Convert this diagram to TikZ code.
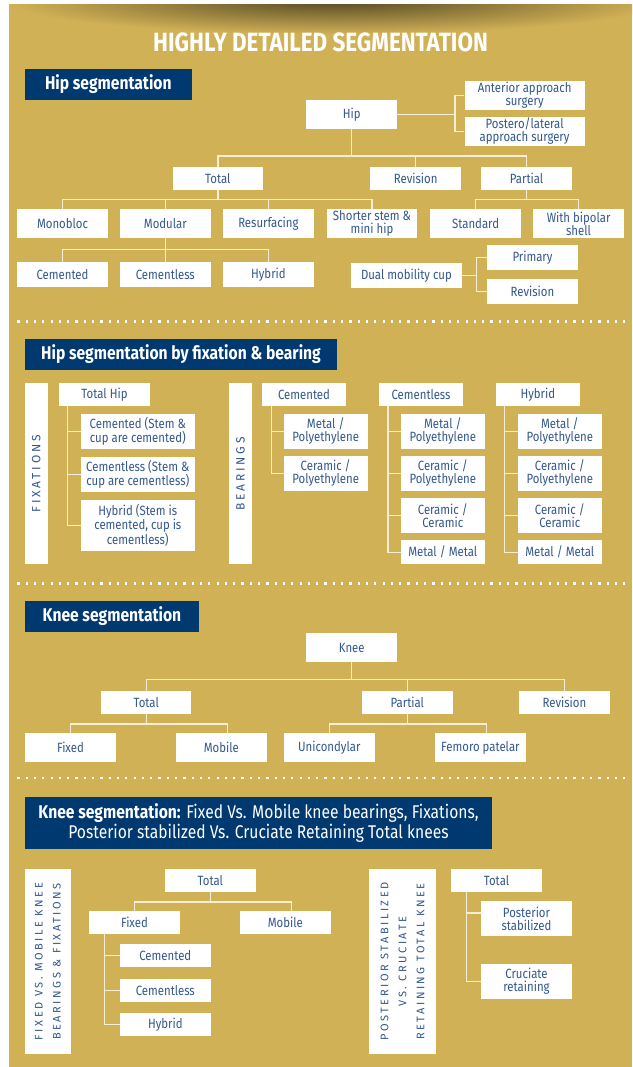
\documentclass[tikz,border=0pt]{standalone}
\usepackage{fontspec}
\setmainfont{Fira Sans}[FakeStretch=0.85]
\newfontfamily\barfont{Fira Sans}[LetterSpace=23]
\usetikzlibrary{positioning}

\definecolor{gold}{RGB}{209,177,86}
\definecolor{navy}{RGB}{0,57,112}
\definecolor{txtblue}{RGB}{52,88,140}
\definecolor{linecol}{RGB}{244,238,214}

\tikzset{
	box/.style={fill=white,text=txtblue,inner sep=0pt,align=center,minimum width=90.5pt,minimum height=23pt,font=\fontsize{13.4}{13}\selectfont},
	head/.style={fill=navy,text=white,inner sep=0pt,align=center,font=\fontsize{18.4}{21}\selectfont\bfseries},
	sidebar/.style={fill=white,text=txtblue,inner sep=0pt,align=center,rotate=90},
	link/.style={draw=linecol,line width=1.4pt},
	dots/.style={white,line width=2.2pt,dash pattern=on 2.2pt off 6.1pt}
}

\begin{document}
\begin{tikzpicture}[x=1pt,y=-1pt]
			\useasboundingbox (0,0) rectangle (632,1067);
			\fill[white] (0,0) rectangle (632,1067);
			\fill[gold] (9,5) rectangle (632,1067);
			\begin{scope}
				\clip (9,5) rectangle (632,1067);
				\shade[inner color=gold!40!black,outer color=gold] (335,0) ellipse (330 and 34);
			\end{scope}
			\node[text=white,font=\fontsize{26.4}{28}\selectfont\bfseries] (title) at (320.5,42) {HIGHLY DETAILED SEGMENTATION};

			% hip segmentation
			\node[head,minimum width=166.5pt,minimum height=31pt] (hiphead) at (108.3,84.5) {Hip segmentation};
			\node[box,minimum height=28.7pt] (hip) at (351.7,114.3) {Hip};
			\node[box,minimum width=120.2pt,minimum height=28.7pt] (ant) at (524.6,95.3) {Anterior approach\\surgery};
			\node[box,minimum width=120.2pt,minimum height=28.7pt] (post) at (524.6,131.3) {Postero/lateral\\approach surgery};
			\node[box] (htot) at (217.8,178.5) {Total};
			\node[box] (hrev) at (415.7,178.5) {Revision};
			\node[box] (hpart) at (526.6,178.5) {Partial};
			\node[box,minimum height=28.4pt] (mono) at (62.5,223.5) {Monobloc};
			\node[box,minimum height=28.4pt] (modu) at (165.3,223.5) {Modular};
			\node[box,minimum height=28.4pt] (resurf) at (268.4,223.5) {Resurfacing};
			\node[box,minimum height=28.4pt] (short) at (372,223.5) {Shorter stem \&\\mini hip};
			\node[box,minimum height=28.4pt] (std) at (475.6,223.5) {Standard};
			\node[box,minimum height=28.4pt] (bip) at (578.6,223.5) {With bipolar\\shell};
			\node[box,minimum height=24.7pt] (mcem) at (62.5,274.3) {Cemented};
			\node[box,minimum height=24.7pt] (mcless) at (165.3,274.3) {Cementless};
			\node[box,minimum height=24.7pt] (mhyb) at (268.4,274.3) {Hybrid};
			\node[box,minimum width=110.7pt,minimum height=24.4pt] (dual) at (406.4,275.5) {Dual mobility cup};
			\node[box,minimum width=91pt,minimum height=25pt] (prim) at (532.5,257.5) {Primary};
			\node[box,minimum width=91pt,minimum height=24.7pt] (drev) at (532.5,291.4) {Revision};

			\draw[link] (hip.east) -- ++(58,0) coordinate (hipr);
			\draw[link] (hipr) |- (ant.west);
			\draw[link] (hipr) |- (post.west);
			\draw[link] (hip.south) -- ++(0,27.3) -| (htot.north);
			\draw[link] (hip.south) -- ++(0,27.3) -| (hrev.north);
			\draw[link] (hip.south) -- ++(0,27.3) -| (hpart.north);
			\draw[link] (htot.south) -- ++(0,9.5) -| (mono.north);
			\draw[link] (htot.south) -- ++(0,9.5) -| (modu.north);
			\draw[link] (htot.south) -- ++(0,9.5) -| (resurf.north);
			\draw[link] (htot.south) -- ++(0,9.5) -| (short.north);
			\draw[link] (hpart.south) -- ++(0,9.5) -| (std.north);
			\draw[link] (hpart.south) -- ++(0,9.5) -| (bip.north);
			\draw[link] (modu.south) -- ++(0,11.6) -| (mcem.north);
			\draw[link] (modu.south) -- ++(0,11.6) -| (mcless.north);
			\draw[link] (modu.south) -- ++(0,11.6) -| (mhyb.north);
			\draw[link] (dual.east) -- ++(14.3,0) coordinate (dualr);
			\draw[link] (dualr) |- (prim.west);
			\draw[link] (dualr) |- (drev.west);

			\draw[dots] (17.3,321.5) -- (628,321.5);

			% fixation and bearing
			\node[head,minimum width=312pt,minimum height=31pt] (fbhead) at (181,354.5) {Hip segmentation by fixation \& bearing};
			\node[sidebar,minimum width=181pt,minimum height=22.7pt,font=\barfont\fontsize{12}{18}\selectfont] (fixbar) at (36.3,473.8) {FIXATIONS};
			\node[box,minimum height=22.4pt] (tothip) at (104.5,394.5) {Total Hip};
			\node[box,minimum width=113.7pt,minimum height=34.7pt] (fcem) at (137.8,431.3) {Cemented (Stem \&\\cup are cemented)};
			\node[box,minimum width=113.7pt,minimum height=34.7pt] (fcless) at (137.8,474.3) {Cementless (Stem \&\\cup are cementless)};
			\node[box,minimum width=113.7pt,minimum height=50.7pt] (fhyb) at (137.8,525.3) {Hybrid (Stem is\\cemented, cup is\\cementless)};
			\draw[link] ([xshift=8.4pt]tothip.south west) |- (fcem.west);
			\draw[link] ([xshift=8.4pt]tothip.south west) |- (fcless.west);
			\draw[link] ([xshift=8.4pt]tothip.south west) |- (fhyb.west);

			\node[sidebar,minimum width=181pt,minimum height=22.4pt,font=\barfont\fontsize{12}{18}\selectfont] (bearbar) at (240.5,473.8) {BEARINGS};
			\node[box,minimum width=84pt,minimum height=22.4pt] (bcem) at (304,394.5) {Cemented};
			\node[box,minimum width=84pt,minimum height=34.7pt] (bcem1) at (325.7,431.3) {Metal /\\Polyethylene};
			\node[box,minimum width=84pt,minimum height=34.7pt] (bcem2) at (325.7,473.3) {Ceramic /\\Polyethylene};
			\draw[link] ([xshift=9.7pt]bcem.south west) |- (bcem1.west);
			\draw[link] ([xshift=9.7pt]bcem.south west) |- (bcem2.west);

			\node[box,minimum width=83.4pt,minimum height=22.4pt] (bcless) at (421,394.5) {Cementless};
			\node[box,minimum width=83.7pt,minimum height=34.7pt] (bcless1) at (442.8,431.3) {Metal /\\Polyethylene};
			\node[box,minimum width=83.7pt,minimum height=34.7pt] (bcless2) at (442.8,473.3) {Ceramic /\\Polyethylene};
			\node[box,minimum width=83.7pt,minimum height=34.7pt] (bcless3) at (442.8,515.3) {Ceramic /\\Ceramic};
			\node[box,minimum width=83.7pt,minimum height=24.3pt] (bcless4) at (442.8,552.2) {Metal / Metal};
			\draw[link] ([xshift=8.7pt]bcless.south west) |- (bcless1.west);
			\draw[link] ([xshift=8.7pt]bcless.south west) |- (bcless2.west);
			\draw[link] ([xshift=8.7pt]bcless.south west) |- (bcless3.west);
			\draw[link] ([xshift=8.7pt]bcless.south west) |- (bcless4.west);

			\node[box,minimum width=83.7pt,minimum height=22.4pt] (bhyb) at (537.8,394.5) {Hybrid};
			\node[box,minimum width=83.7pt,minimum height=34.7pt] (bhyb1) at (559.8,431.3) {Metal /\\Polyethylene};
			\node[box,minimum width=83.7pt,minimum height=34.7pt] (bhyb2) at (559.8,473.3) {Ceramic /\\Polyethylene};
			\node[box,minimum width=83.7pt,minimum height=34.7pt] (bhyb3) at (559.8,515.3) {Ceramic /\\Ceramic};
			\node[box,minimum width=83.7pt,minimum height=24.3pt] (bhyb4) at (559.8,552.2) {Metal / Metal};
			\draw[link] ([xshift=9pt]bhyb.south west) |- (bhyb1.west);
			\draw[link] ([xshift=9pt]bhyb.south west) |- (bhyb2.west);
			\draw[link] ([xshift=9pt]bhyb.south west) |- (bhyb3.west);
			\draw[link] ([xshift=9pt]bhyb.south west) |- (bhyb4.west);

			\draw[dots] (17.3,583.5) -- (628,583.5);

			% knee segmentation
			\node[head,minimum width=173.8pt,minimum height=30.7pt] (kneehead) at (111.9,616.3) {Knee segmentation};
			\node[box,minimum height=28.4pt] (knee) at (351.7,647.5) {Knee};
			\node[box,minimum height=22.7pt] (ktot) at (146.2,702.3) {Total};
			\node[box,minimum height=22.7pt] (kpart) at (407.4,702.3) {Partial};
			\node[box,minimum height=22.7pt] (krev) at (564.4,702.3) {Revision};
			\node[box,minimum width=91pt,minimum height=28.4pt] (kfix) at (70.5,747.5) {Fixed};
			\node[box,minimum height=28.4pt] (kmob) at (221.3,747.5) {Mobile};
			\node[box,minimum height=28.4pt] (kuni) at (329.3,747.5) {Unicondylar};
			\node[box,minimum height=28.4pt] (kfem) at (480.4,747.5) {Femoro patelar};
			\draw[link] (knee.south) -- ++(0,17.6) -| (ktot.north);
			\draw[link] (knee.south) -- ++(0,17.6) -| (kpart.north);
			\draw[link] (knee.south) -- ++(0,17.6) -| (krev.north);
			\draw[link] (ktot.south) -- ++(0,10.3) -| (kfix.north);
			\draw[link] (ktot.south) -- ++(0,10.3) -| ([xshift=6pt]kmob.north);
			\draw[link] (kpart.south) -- ++(0,10.3) -| (kuni.north);
			\draw[link] (kpart.south) -- ++(0,10.3) -| ([xshift=6pt]kfem.north);

			\draw[dots] (17.3,778) -- (628,778);

			% knee bearings and fixations
			\node[head,minimum width=467pt,minimum height=51.4pt,font=\fontsize{18.4}{20}\selectfont] (fmhead) at (258.5,823) {\textbf{Knee segmentation:} Fixed Vs. Mobile knee bearings, Fixations,\\Posterior stabilized Vs. Cruciate Retaining Total knees};
			\node[sidebar,minimum width=184.4pt,minimum height=45.6pt,font=\barfont\fontsize{11}{18}\selectfont] (fmbar) at (47.8,961.5) {FIXED VS. MOBILE KNEE\\BEARINGS \& FIXATIONS};
			\node[box,minimum height=22.4pt] (ftot) at (210.3,880.5) {Total};
			\node[box,minimum width=91pt,minimum height=22.7pt] (ffix) at (134.5,922.3) {Fixed};
			\node[box,minimum height=22.7pt] (fmob) at (285.3,922.3) {Mobile};
			\node[box,minimum height=22.7pt] (kcem) at (165.3,955.3) {Cemented};
			\node[box,minimum height=22.7pt] (kcless) at (165.3,990.3) {Cementless};
			\node[box,minimum height=22.7pt] (khyb) at (165.3,1024.3) {Hybrid};
			\draw[link] (ftot.south) -- ++(0,10) -| (ffix.north);
			\draw[link] (ftot.south) -- ++(0,10) -| ([xshift=6pt]fmob.north);
			\draw[link] ([xshift=15.8pt]ffix.south west) |- (kcem.west);
			\draw[link] ([xshift=15.8pt]ffix.south west) |- (kcless.west);
			\draw[link] ([xshift=15.8pt]ffix.south west) |- (khyb.west);

			\node[sidebar,minimum width=184.4pt,minimum height=67pt,font=\barfont\fontsize{11}{18}\selectfont] (psbar) at (402.5,961.5) {POSTERIOR STABILIZED\\VS. CRUCIATE\\RETAINING TOTAL KNEE};
			\node[box,minimum height=22.4pt] (ptot) at (496.5,880.5) {Total};
			\node[box,minimum height=34.4pt] (pstab) at (526.5,918.5) {Posterior\\stabilized};
			\node[box,minimum height=34.7pt] (pcruc) at (526.5,981.3) {Cruciate\\retaining};
			\draw[link] ([xshift=15.5pt]ptot.south west) |- ([yshift=5.5pt]pstab.west);
			\draw[link] ([xshift=15.5pt]ptot.south west) |- (pcruc.west);
		\end{tikzpicture}
\end{document}
